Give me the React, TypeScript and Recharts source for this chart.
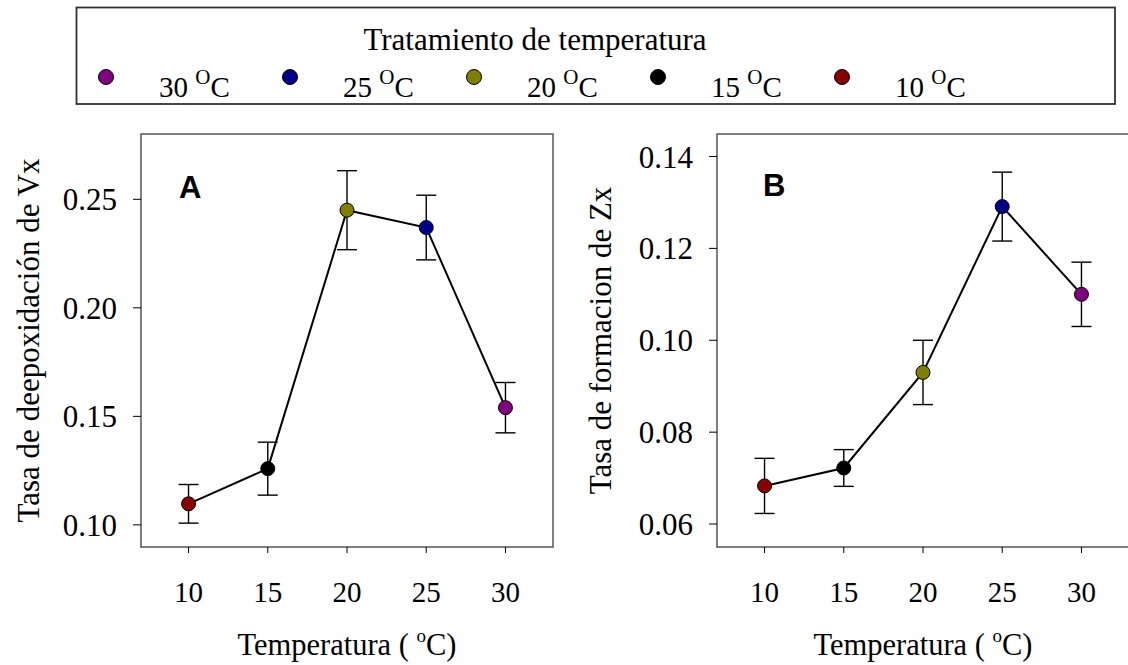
import React from "react";
import {
  LineChart, Line, XAxis, YAxis, ErrorBar, ReferenceArea, Label,
} from "recharts";

// temperature treatments (x) and the colour used for each point
const temps = [10, 15, 20, 25, 30];
const pointColors = ["#8B0000", "#000000", "#808000", "#00008B", "#800080"];

// panel A: Tasa de deepoxidación de Vx
const vxRate = [0.1097, 0.1259, 0.2450, 0.2370, 0.1540];
const vxErr = [0.0089, 0.0122, 0.0182, 0.0149, 0.0116];
const vxTicks = [0.10, 0.15, 0.20, 0.25];
const vxDomain = [0.0898, 0.2801];

// panel B: Tasa de formacion de Zx
const zxRate = [0.0683, 0.0722, 0.0930, 0.1291, 0.1100];
const zxErr = [0.0060, 0.0040, 0.0070, 0.0075, 0.0070];
const zxTicks = [0.06, 0.08, 0.10, 0.12, 0.14];
const zxDomain = [0.0550, 0.1449];

// legend, in the order shown
const legendTemps = [30, 25, 20, 15, 10];

const xDomain = [7, 33];
const serif = "'Liberation Serif', 'Times New Roman', serif";
const sans = "'Liberation Sans', Arial, sans-serif";

type Row = { t: number; v: number; err: number; color: string };

const colorOf = (t: number) => pointColors[temps.indexOf(t)];

function XTitle({ viewBox }: any) {
  const cx = viewBox.x + viewBox.width / 2;
  const y = viewBox.y + 108;
  return (
    <text x={cx} y={y} textAnchor="middle" fontFamily={serif} fontSize={30.5} fill="#000">
      Temperatura ( <tspan dy={-13} fontSize={19}>o</tspan><tspan dy={13}>C)</tspan>
    </text>
  );
}

function Panel({ rows, ticks, domain, yTitle, letter, titleX, letterX, letterY }: {
  rows: Row[]; ticks: number[]; domain: number[]; yTitle: string;
  letter: string; titleX: number; letterX: number; letterY: number;
}) {
  return (
    <LineChart width={563} height={665} data={rows} margin={{ top: 134, right: 10, left: 0, bottom: 0 }}>
      <XAxis
        dataKey="t" type="number" domain={xDomain} ticks={temps} allowDataOverflow
        axisLine={false} tickLine={{ stroke: "#000" }} tickSize={6} tickMargin={28} height={118}
        tick={{ fontSize: 29, fill: "#000", fontFamily: serif }}
      >
        <Label content={(p: any) => <XTitle {...p} />} />
      </XAxis>
      <YAxis
        type="number" domain={domain} ticks={ticks} allowDataOverflow width={141}
        tickFormatter={(v: number) => v.toFixed(2)}
        axisLine={false} tickLine={{ stroke: "#000" }} tickSize={8} tickMargin={16}
        tick={{ fontSize: 31, fill: "#000", fontFamily: serif }}
      >
        <Label
          content={({ viewBox }: any) => {
            const cy = viewBox.y + viewBox.height / 2;
            const x = viewBox.x + titleX;
            return (
              <text x={x} y={cy} transform={`rotate(-90 ${x} ${cy})`} textAnchor="middle"
                dominantBaseline="central" fontFamily={serif} fontSize={31} fill="#000">
                {yTitle}
              </text>
            );
          }}
        />
      </YAxis>
      <ReferenceArea
        x1={xDomain[0]} x2={xDomain[1]} y1={domain[0]} y2={domain[1]}
        fill="none" fillOpacity={0} stroke="#555" strokeWidth={1.5} ifOverflow="extendDomain"
        label={{
          content: ({ viewBox }: any) => (
            <text x={viewBox.x + letterX} y={viewBox.y + letterY} fontFamily={sans}
              fontWeight="bold" fontSize={31} fill="#000">{letter}</text>
          ),
        }}
      />
      <Line
        type="linear" dataKey="v" stroke="#000" strokeWidth={2} isAnimationActive={false}
        dot={(p: any) => (
          <circle key={`dot-${p.index}`} cx={p.cx} cy={p.cy} r={7}
            fill={p.payload.color} stroke="#000" strokeWidth={1} />
        )}
        activeDot={false}
      >
        <ErrorBar dataKey="err" direction="y" width={10} stroke="#000" strokeWidth={1.4} isAnimationActive={false} />
      </Line>
    </LineChart>
  );
}

function TempLegend() {
  return (
    <svg width={1128} height={110} style={{ position: "absolute", left: 0, top: 0 }}>
      <rect x={76.5} y={7.5} width={1038.5} height={96.5} fill="#fff" stroke="#333" strokeWidth={1.8} />
      <text x={535} y={50} textAnchor="middle" fontFamily={serif} fontSize={31} fill="#000">
        Tratamiento de temperatura
      </text>
      {legendTemps.map((t, i) => {
        const cx = 106 + i * 184;
        return (
          <g key={t}>
            <circle cx={cx} cy={77} r={7.5} fill={colorOf(t)} stroke="#000" strokeWidth={1} />
            <text x={cx + 53} y={97} fontFamily={serif} fontSize={29} fill="#000">
              {t} <tspan dy={-13} fontSize={21}>O</tspan><tspan dy={13}>C</tspan>
            </text>
          </g>
        );
      })}
    </svg>
  );
}

export default function App() {
  const rowsA: Row[] = temps.map((t, i) => ({ t, v: vxRate[i], err: vxErr[i], color: pointColors[i] }));
  const rowsB: Row[] = temps.map((t, i) => ({ t, v: zxRate[i], err: zxErr[i], color: pointColors[i] }));
  return (
    <div style={{ position: "absolute", left: 0, top: 0, width: 1128, height: 665, overflow: "hidden", background: "#fff" }}>
      <TempLegend />
      <div style={{ position: "absolute", left: 0, top: 0 }}>
        <Panel rows={rowsA} ticks={vxTicks} domain={vxDomain} yTitle="Tasa de deepoxidación de Vx"
          letter="A" titleX={28} letterX={38} letterY={64} />
      </div>
      <div style={{ position: "absolute", left: 576, top: 0 }}>
        <Panel rows={rowsB} ticks={zxTicks} domain={zxDomain} yTitle="Tasa de formacion de Zx"
          letter="B" titleX={24} letterX={46} letterY={62} />
      </div>
    </div>
  );
}
